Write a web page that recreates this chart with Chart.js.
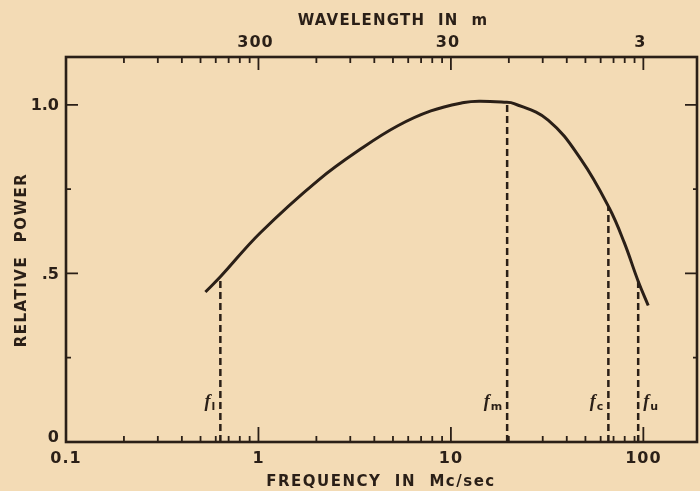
<!DOCTYPE html>
<html><head><meta charset="utf-8">
<script src="https://cdn.jsdelivr.net/npm/chart.js@4.4.1/dist/chart.umd.min.js"></script>
<style>html,body{margin:0;padding:0;background:#f3dbb5}#wrap{width:700px;height:491px;position:relative}</style>
</head><body><div id="wrap"><canvas id="c"></canvas></div>
<script>
// ---- data ----
const frequency     = [0.53, 0.634, 1.02, 2.05, 3.52, 5.3, 7.87, 11.7, 14.0, 18.9, 21.3, 32.0, 47.6, 66.5, 79.5, 94, 106];
const relativePower = [0.445, 0.49, 0.62, 0.777, 0.875, 0.938, 0.982, 1.007, 1.011, 1.008, 1.004, 0.955, 0.837, 0.694, 0.592, 0.477, 0.405];
const markerFreq  = [0.634, 19.6, 65.8, 94];
const markerPower = [0.49, 1.008, 0.697, 0.477];
const markerNames = ['l', 'm', 'c', 'u'];
const freqTickValues  = [0.1, 1, 10, 100];
const freqTickLabels  = ['0.1', '1', '10', '100'];
const waveTickValues  = [300, 30, 3];
const waveTickLabels  = ['300', '30', '3'];
const powerTickValues = [0, 0.5, 1.0];
const powerTickLabels = ['0', '.5', '1.0'];
const powerMinorTicks = [0.25, 0.75];

const INK = '#2a1f17';
const BG = '#f3dbb5';

const curve = frequency.map((f, i) => ({x: f, y: relativePower[i]}));
const markerSets = markerFreq.map((f, i) => ({
  data: [{x: f, y: 0}, {x: f, y: markerPower[i]}],
  borderColor: INK, borderWidth: 2.5, borderDash: [7, 4], pointRadius: 0, fill: false, tension: 0
}));

function txt(ctx, s, x, y, font, align, base, spacing) {
  ctx.font = font; ctx.textAlign = align || 'center'; ctx.textBaseline = base || 'middle';
  ctx.letterSpacing = (spacing || 0) + 'px';
  ctx.fillText(s, x, y);
  ctx.letterSpacing = '0px';
}

const deco = {
  id: 'deco',
  beforeDraw(chart) {
    const {ctx, width, height} = chart;
    ctx.save(); ctx.fillStyle = BG; ctx.fillRect(0, 0, width, height); ctx.restore();
  },
  afterDatasetsDraw(chart) {
    const {ctx, chartArea: a, scales: {x, y}} = chart;
    ctx.save();
    ctx.strokeStyle = INK; ctx.fillStyle = INK; ctx.lineCap = 'butt';
    ctx.lineWidth = 2.6;
    ctx.strokeRect(a.left, a.top, a.right - a.left, a.bottom - a.top);
    ctx.lineWidth = 1.8;
    const minor = [];
    for (let k = -1; k < 2; k++) for (let d = 2; d <= 9; d++) minor.push(d * Math.pow(10, k));
    ctx.beginPath();
    minor.forEach(v => {
      const px = x.getPixelForValue(v);
      ctx.moveTo(px, a.bottom); ctx.lineTo(px, a.bottom - 6);
      ctx.moveTo(px, a.top); ctx.lineTo(px, a.top + 6);
    });
    [1, 10, 100].forEach(v => {
      const px = x.getPixelForValue(v);
      ctx.moveTo(px, a.bottom); ctx.lineTo(px, a.bottom - 15);
    });
    waveTickValues.forEach(l => {
      const px = x.getPixelForValue(300 / l);
      ctx.moveTo(px, a.top); ctx.lineTo(px, a.top + 13);
    });
    [0.5, 1.0].forEach(v => {
      const py = y.getPixelForValue(v);
      ctx.moveTo(a.left, py); ctx.lineTo(a.left + 12, py);
      ctx.moveTo(a.right, py); ctx.lineTo(a.right - 12, py);
    });
    powerMinorTicks.forEach(v => {
      const py = y.getPixelForValue(v);
      ctx.moveTo(a.left, py); ctx.lineTo(a.left + 5, py);
      ctx.moveTo(a.right, py); ctx.lineTo(a.right - 4, py);
    });
    ctx.stroke();

    const tf = 'bold 16px "DejaVu Sans"';
    freqTickValues.forEach((v, i) => txt(ctx, freqTickLabels[i], x.getPixelForValue(v), a.bottom + 17, tf, 'center', 'middle', 1));
    waveTickValues.forEach((l, i) => txt(ctx, waveTickLabels[i], x.getPixelForValue(300 / l) - 3, a.top - 14, tf, 'center', 'middle', 1));
    powerTickValues.forEach((v, i) => txt(ctx, powerTickLabels[i], a.left - 7, y.getPixelForValue(v) + (v === 0 ? -4 : 1), tf, 'right', 'middle', 0));

    const af = 'bold 15px "DejaVu Sans"';
    txt(ctx, 'WAVELENGTH  IN  m', 393, 21, af, 'center', 'middle', 1.2);
    txt(ctx, 'FREQUENCY  IN  Mc/sec', 381, 482, af, 'center', 'middle', 1.5);
    ctx.save(); ctx.translate(22, 260); ctx.rotate(-Math.PI / 2);
    txt(ctx, 'RELATIVE  POWER', 0, 0, af, 'center', 'middle', 1.5);
    ctx.restore();

    markerFreq.forEach((f, i) => {
      const px = x.getPixelForValue(f);
      const ff = 'italic bold 18px "Liberation Serif"';
      const sf = 'bold 11px "DejaVu Sans"';
      ctx.font = ff; const w1 = ctx.measureText('f').width;
      ctx.font = sf; const w2 = ctx.measureText(markerNames[i]).width;
      const right = i === 3;
      const x0 = right ? px + 5 : px - 5 - w1 - w2 - 1;
      txt(ctx, 'f', x0, 407, ff, 'left', 'alphabetic', 0);
      txt(ctx, markerNames[i], x0 + w1 + 1, 410, sf, 'left', 'alphabetic', 0);
    });
    ctx.restore();
  }
};

new Chart(document.getElementById('c'), {
  type: 'line',
  data: {
    datasets: [{
      data: curve, borderColor: INK, borderWidth: 3, pointRadius: 0, fill: false,
      tension: 0.4
    }, ...markerSets]
  },
  options: {
    responsive: true, maintainAspectRatio: false, animation: false,
    layout: {padding: {left: 66, right: 3, top: 57, bottom: 49}},
    plugins: {legend: {display: false}, tooltip: {enabled: false}},
    scales: {
      x: {type: 'logarithmic', min: 0.1, max: 190, display: false},
      y: {type: 'linear', min: 0, max: 1.142, display: false}
    }
  },
  plugins: [deco]
});
</script>
</body></html>
